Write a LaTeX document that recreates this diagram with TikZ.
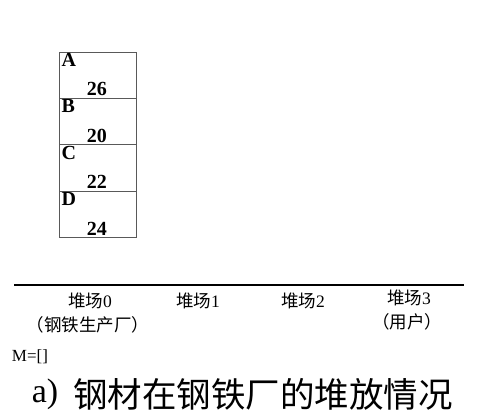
\documentclass[tikz,border=0pt]{standalone}
\usepackage{fontspec}
\setmainfont{Liberation Serif}
\newfontfamily\cjk{Noto Sans CJK SC}
\begin{document}
\begin{tikzpicture}[x=1pt,y=-1pt,
  cell/.style={draw=black!65,line width=0.8pt,minimum width=77.5pt,minimum height=46.3pt,inner sep=0pt,anchor=north west},
  letter/.style={font=\fontsize{20}{20}\selectfont\bfseries,inner sep=0pt,anchor=north west},
  num/.style={font=\fontsize{20}{20}\selectfont\bfseries,inner sep=0pt,anchor=south},
  yard/.style={font=\fontsize{17.5}{17.5}\selectfont,inner sep=0pt},
]
\useasboundingbox (0,0) rectangle (479,414);
% stack
\node[cell] (cA) at (58.5,51.7) {};
\node[cell] (cB) at (58.5,98) {};
\node[cell] (cC) at (58.5,144.3) {};
\node[cell] (cD) at (58.5,190.6) {};
\foreach \c/\l/\n in {cA/A/26,cB/B/20,cC/C/22,cD/D/24}{
  \node[letter] (\c l) at ([xshift=3pt,yshift=-1.5pt]\c.north west) {\l};
  \node[num] (\c n) at ([xshift=-40pt,yshift=2.5pt]\c.south east) {\n};
}
% ground line
\coordinate (gl) at (14,285);
\coordinate (gr) at (464,285);
\draw[line width=2pt] (gl) -- (gr);
% yard labels
\node[yard] (y0) at (90,301) {{\cjk 堆场}0};
\node[yard] (y0b) at (88,325) {{\cjk （钢铁生产厂）}};
\node[yard] (y1) at (198,301) {{\cjk 堆场}1};
\node[yard] (y2) at (303,301) {{\cjk 堆场}2};
\node[yard] (y3) at (409,298) {{\cjk 堆场}3};
\node[yard] (y3b) at (407,322) {{\cjk （用户）}};
% M
\node[inner sep=0pt,font=\fontsize{17}{17}\selectfont] (m) at (30,357) {M=[]};
% caption
\node[inner sep=0pt,font=\fontsize{34}{34}\selectfont] (ca) at (45,394) {a)};
\node[inner sep=0pt,anchor=west,font=\fontsize{34.5}{34.5}\selectfont\cjk] (cap) at (73,394) {钢材在钢铁厂的堆放情况};
\end{tikzpicture}
\end{document}
